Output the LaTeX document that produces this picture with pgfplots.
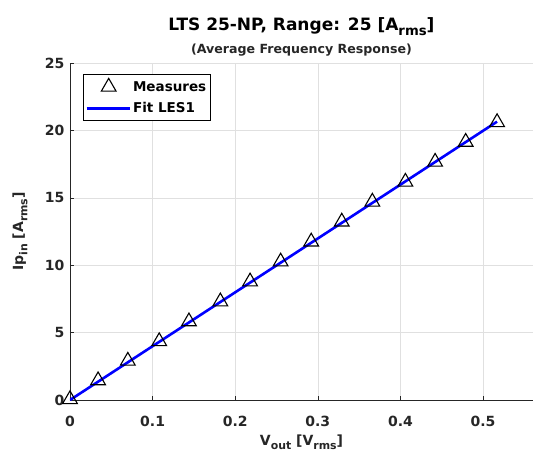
\documentclass[border=0pt]{standalone}
\usepackage{fontspec}
\setmainfont{DejaVu Sans}
\usepackage{graphicx}
\usepackage{pgfplots}
\pgfplotsset{compat=1.18}
\definecolor{axgray}{gray}{0.15}
\definecolor{gridgray}{gray}{0.88}
\newcommand{\sub}[1]{\raisebox{-0.55ex}{\scalebox{0.78}{#1}}}
\pgfplotsset{
  measleg/.style={legend image code/.code={\path (0cm,0cm) (1.55cm,0cm);\draw[##1] plot coordinates {(0.78cm,0cm)};}},
  lineleg/.style={legend image code/.code={\draw[##1] (0cm,0cm) -- (1.52cm,0cm);}},
}
\begin{document}
\begin{tikzpicture}
\begin{axis}[
  name=ax,
  scale only axis,
  width=463pt, height=337pt,
  xmin=0, xmax=0.5605, ymin=0, ymax=25,
  axis lines*=left,
  axis line style={axgray, line width=0.6pt},
  tick align=inside,
  major tick length=4pt,
  tick style={axgray, line width=0.6pt},
  xtick={0,0.1,0.2,0.3,0.4,0.5},
  ytick={0,5,10,15,20,25},
  grid=major,
  major grid style={gridgray, line width=0.5pt},
  /pgf/number format/assume math mode=true,
  /pgf/number format/fixed,
  ticklabel style={font=\bfseries\fontsize{14}{14}\selectfont, text=axgray},
  xticklabel style={yshift=-13pt},
  yticklabel style={xshift=-2pt},
  xlabel={V\sub{out} [V\sub{rms}]},
  ylabel={Ip\sub{in} [A\sub{rms}]},
  label style={font=\bfseries\fontsize{14}{14}\selectfont, text=axgray},
  xlabel style={at={(axis description cs:0.5,-0.135)}, anchor=base},
  ylabel style={at={(axis description cs:-0.108,0.5)}, anchor=center},
  title={LTS 25-NP, Range: 25 [A\sub{rms}]},
  title style={font=\bfseries\fontsize{17}{17}\selectfont, at={(axis description cs:0.5,1)}, anchor=base, yshift=27pt},
  legend style={at={(axis description cs:0.028,0.967)}, anchor=north west,
    font=\bfseries\fontsize{13.5}{13.5}\selectfont, draw=black, line width=0.5pt,
    fill=white, inner xsep=2pt, inner ysep=4pt, row sep=6pt, cells={anchor=west}},
  legend cell align=left,
]
\addplot[only marks, mark=triangle, mark size=8.5pt, mark options={black, line width=1.1pt, fill=none}, measleg]
  coordinates {
  (0,0.05) (0.034,1.45) (0.070,2.9) (0.108,4.35) (0.144,5.82) (0.182,7.3)
  (0.218,8.78) (0.255,10.26) (0.292,11.74) (0.329,13.22) (0.366,14.7)
  (0.406,16.18) (0.442,17.66) (0.479,19.14) (0.517,20.6)
};
\addlegendentry{Measures}
\addplot[blue, line width=2.6pt, no marks, lineleg]
  coordinates {(0,0) (0.517,20.65)};
\addlegendentry{Fit LES1}
\end{axis}
\node[font=\bfseries\fontsize{12.6}{12.6}\selectfont, text=axgray, anchor=base] at ([yshift=10pt]ax.north) {(Average Frequency Response)};
\pgfresetboundingbox
\path[use as bounding box] ([xshift=-70pt,yshift=-56pt]ax.south west) rectangle ++(533pt,456pt);
\end{tikzpicture}
\end{document}
